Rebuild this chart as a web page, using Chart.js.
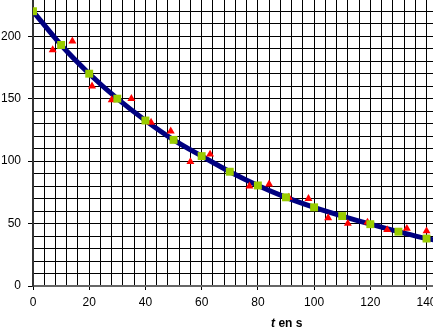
<!DOCTYPE html>
<html>
<head>
<meta charset="utf-8">
<script src="https://cdn.jsdelivr.net/npm/chart.js@4"></script>
<style>
  html, body { margin: 0; padding: 0; background: #fff; }
  #wrap { width: 433px; height: 333px; }
</style>
</head>
<body>
<div id="wrap"><canvas id="chart"></canvas></div>
<script>
// measured points (red triangles), every 7 s
let measuredTimes = [0, 7, 14, 21, 28, 35, 42, 49, 56, 63, 70, 77, 84, 91, 98, 105, 112, 119, 126, 133, 140];
let measuredValues = [220, 189, 196, 160, 149, 150, 131, 124, 99.5, 105.5, 91, 80, 81.5, 71, 70, 54.5, 50, 51, 45, 46, 44];

// model points (green squares), every 10 s
let modelTimes = [0, 10, 20, 30, 40, 50, 60, 70, 80, 90, 100, 110, 120, 130, 140];
let modelValues = [220, 193, 170, 150, 132.5, 117, 104, 91.5, 80.5, 71, 63, 56, 49.5, 43.5, 38];

// fitted curve (thick navy line), runs past the last point to the edge
let curveTimes = modelTimes.concat([145]);
let curveValues = modelValues.concat([36]);

let xTickLabels = [0, 20, 40, 60, 80, 100, 120, 140];
let yTickLabels = [0, 50, 100, 150, 200];

const FONT = '"Liberation Sans", Arial, sans-serif';

function toPoints(xs, ys) {
    return xs.map((x, i) => ({ x: x, y: ys[i] }));
}

const axisTitle = {
    id: "axisTitle",
    afterDraw(chart) {
        let ctx = chart.ctx;
        let x = chart.width * 0.626;
        let y = chart.height - 9;
        ctx.save();
        ctx.fillStyle = "#000";
        ctx.textBaseline = "middle";
        ctx.textAlign = "left";
        ctx.font = "italic bold 12px " + FONT;
        ctx.fillText("t", x, y);
        let w = ctx.measureText("t").width;
        ctx.font = "bold 12px " + FONT;
        ctx.fillText(" en s", x + w, y);
        ctx.restore();
    }
};

let ctx = document.getElementById("chart").getContext("2d");
new Chart(ctx, {
    type: "scatter",
    data: {
        datasets: [
            {
                label: "modèle",
                data: toPoints(modelTimes, modelValues),
                showLine: false,
                pointStyle: "rect",
                pointRadius: 5.6,
                pointHoverRadius: 5.6,
                backgroundColor: "#99CC00",
                borderColor: "#99CC00",
                borderWidth: 0,
                order: 1
            },
            {
                label: "mesures",
                data: toPoints(measuredTimes, measuredValues),
                showLine: false,
                pointStyle: "triangle",
                pointRadius: 4.6,
                pointHoverRadius: 4.6,
                backgroundColor: "#FF0000",
                borderColor: "#FF0000",
                borderWidth: 0,
                order: 2
            },
            {
                label: "courbe",
                data: toPoints(curveTimes, curveValues),
                showLine: true,
                pointRadius: 0,
                borderColor: "#000080",
                borderWidth: 5,
                cubicInterpolationMode: "monotone",
                order: 3
            }
        ]
    },
    options: {
        responsive: true,
        maintainAspectRatio: false,
        animation: false,
        layout: { padding: 0, autoPadding: false },
        plugins: {
            legend: { display: false },
            tooltip: { enabled: false },
            title: { display: false }
        },
        scales: {
            x: {
                type: "linear",
                min: 0,
                max: 142.3,
                afterBuildTicks(scale) {
                    scale.ticks = scale.ticks.filter(t => t.value % 4 === 0);
                },
                afterFit(scale) {
                    scale.height = 47;
                    scale.paddingLeft = 0;
                    scale.paddingRight = 0;
                },
                ticks: {
                    stepSize: 4,
                    includeBounds: false,
                    autoSkip: false,
                    maxRotation: 0,
                    padding: 5,
                    color: "#000",
                    font: { family: FONT, size: 12 },
                    callback: v => xTickLabels.includes(v) ? String(v) : ""
                },
                grid: {
                    color: "#000",
                    lineWidth: 1,
                    tickLength: 4,
                    tickColor: c => xTickLabels.includes(c.tick && c.tick.value) ? "#000" : "rgba(0,0,0,0)"
                },
                border: { color: "#666", width: 2 }
            },
            y: {
                type: "linear",
                min: 0,
                max: 229,
                afterBuildTicks(scale) {
                    scale.ticks = scale.ticks.filter(t => t.value % 10 === 0);
                },
                afterFit(scale) {
                    scale.width = 33;
                    scale.paddingTop = 0;
                    scale.paddingBottom = 0;
                },
                ticks: {
                    stepSize: 10,
                    includeBounds: false,
                    autoSkip: false,
                    padding: 7,
                    color: "#000",
                    font: { family: FONT, size: 12 },
                    callback: v => yTickLabels.includes(v) ? String(v) : ""
                },
                grid: {
                    color: "#000",
                    lineWidth: 1,
                    tickLength: 5,
                    tickColor: c => yTickLabels.includes(c.tick && c.tick.value) ? "#000" : "rgba(0,0,0,0)"
                },
                border: { color: "#333", width: 2 }
            }
        }
    },
    plugins: [axisTitle]
});
</script>
</body>
</html>
